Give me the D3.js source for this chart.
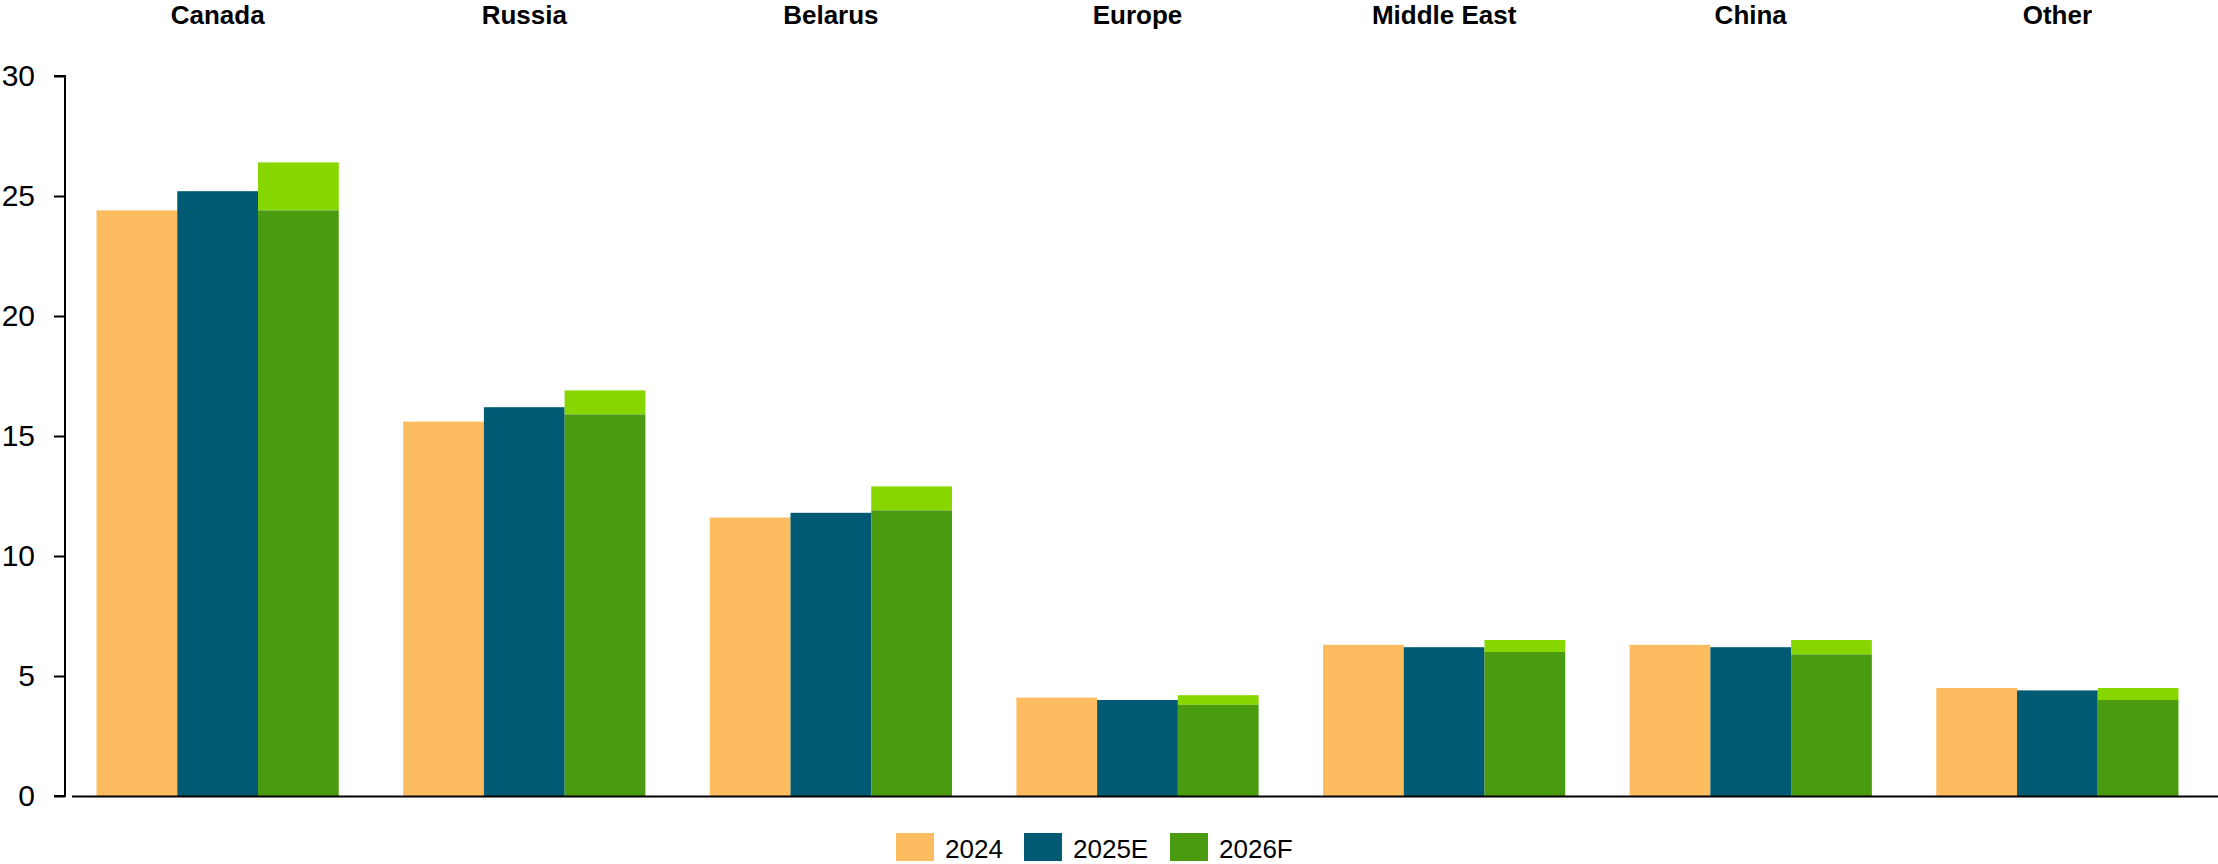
<!DOCTYPE html>
<html>
<head>
<meta charset="utf-8">
<script src="https://cdn.jsdelivr.net/npm/d3@7"></script>
<style>
  body { margin: 0; background: #fff; }
  svg { display: block; font-family: "Liberation Sans", Arial, sans-serif; }
</style>
</head>
<body>
<div id="chart"></div>
<script>
// Data
const categories = ["Canada", "Russia", "Belarus", "Europe", "Middle East", "China", "Other"];
const series = ["2024", "2025E", "2026F"];
const values2024 = [24.4, 15.6, 11.6, 4.1, 6.3, 6.3, 4.5];
const values2025E = [25.2, 16.2, 11.8, 4.0, 6.2, 6.2, 4.4];
const values2026Base = [24.4, 15.9, 11.9, 3.8, 6.0, 5.9, 4.0];  // dark green part
const values2026High = [26.4, 16.9, 12.9, 4.2, 6.5, 6.5, 4.5];  // top of light green part
const yTicks = [0, 5, 10, 15, 20, 25, 30];

const COLORS = {
    y2024: "#febc61",
    y2025: "#005a73",
    y2026: "#4b9b11",
    y2026hi: "#88d600",
    ink: "#000"
};

const width = 2218, height = 864;
const svg = d3.select("#chart").append("svg").attr("width", width).attr("height", height);

const x = d3.scaleBand().domain(categories).range([72, 2203]).paddingInner(0.21).paddingOuter(0.08);
const sub = d3.scaleBand().domain(series).range([0, x.bandwidth()]);
const y = d3.scaleLinear().domain([0, 30]).range([796, 76]);

// y axis
const yAxis = svg.append("g").attr("transform", "translate(65,0)")
    .call(d3.axisLeft(y).tickValues(yTicks).tickSize(11).tickPadding(19));
yAxis.select(".domain").attr("stroke", COLORS.ink).attr("stroke-width", 2).attr("d", `M-11,${y(30)}H0V${y(0)}H-11`);
yAxis.selectAll(".tick line").attr("stroke", COLORS.ink).attr("stroke-width", 2);
yAxis.selectAll(".tick text").attr("font-size", 30).attr("fill", COLORS.ink);

// bars
const rows = categories.map((c, i) => ({
    cat: c, a: values2024[i], b: values2025E[i], base: values2026Base[i], high: values2026High[i]
}));

const g = svg.append("g");
g.selectAll(".b2024").data(rows).join("rect")
    .attr("x", d => x(d.cat) + sub("2024")).attr("width", sub.bandwidth())
    .attr("y", d => y(d.a)).attr("height", d => y(0) - y(d.a)).attr("fill", COLORS.y2024);
g.selectAll(".b2025").data(rows).join("rect")
    .attr("x", d => x(d.cat) + sub("2025E")).attr("width", sub.bandwidth())
    .attr("y", d => y(d.b)).attr("height", d => y(0) - y(d.b)).attr("fill", COLORS.y2025);
g.selectAll(".b2026hi").data(rows).join("rect")
    .attr("x", d => x(d.cat) + sub("2026F")).attr("width", sub.bandwidth())
    .attr("y", d => y(d.high)).attr("height", d => y(d.base) - y(d.high)).attr("fill", COLORS.y2026hi);
g.selectAll(".b2026").data(rows).join("rect")
    .attr("x", d => x(d.cat) + sub("2026F")).attr("width", sub.bandwidth())
    .attr("y", d => y(d.base)).attr("height", d => y(0) - y(d.base)).attr("fill", COLORS.y2026);

// x axis line
svg.append("line").attr("x1", 72).attr("x2", width).attr("y1", y(0) + 0.5).attr("y2", y(0) + 0.5)
    .attr("stroke", COLORS.ink).attr("stroke-width", 2);

// category labels on top
svg.selectAll(".cat").data(categories).join("text")
    .attr("x", d => x(d) + x.bandwidth() / 2).attr("y", 24)
    .attr("text-anchor", "middle").attr("font-weight", "bold").attr("font-size", 26)
    .attr("fill", COLORS.ink).text(d => d);

// legend
const legendData = [
    { label: "2024", color: COLORS.y2024, x: 896 },
    { label: "2025E", color: COLORS.y2025, x: 1024 },
    { label: "2026F", color: COLORS.y2026, x: 1170 }
];
const leg = svg.append("g").selectAll("g").data(legendData).join("g")
    .attr("transform", d => `translate(${d.x},833)`);
leg.append("rect").attr("width", 38).attr("height", 28).attr("fill", d => d.color);
leg.append("text").attr("x", 49).attr("y", 25).attr("font-size", 26).attr("fill", COLORS.ink).text(d => d.label);
</script>
</body>
</html>
